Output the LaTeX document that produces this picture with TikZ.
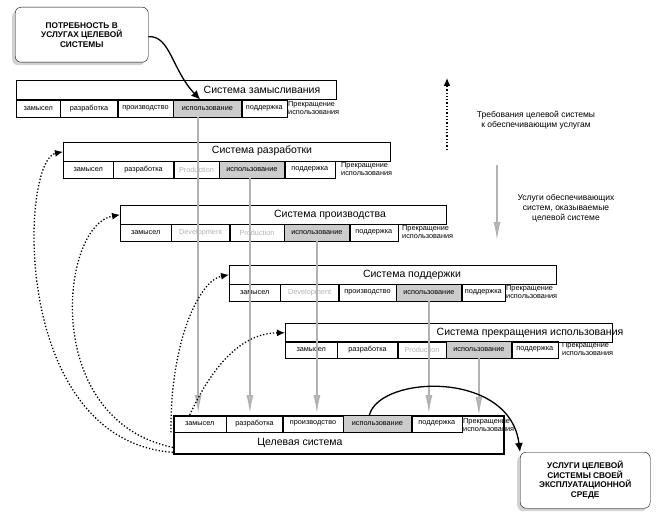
\documentclass[tikz,border=0pt]{standalone}
\usepackage{fontspec}
\setmainfont{Liberation Sans}
\usetikzlibrary{arrows.meta,positioning,shadows}

\begin{document}
\begin{tikzpicture}[x=1pt, y=-1pt,
    frame/.style={draw, line width=0.6pt, anchor=north west, inner sep=0pt, minimum height=19pt},
    cell/.style={draw, line width=0.4pt, anchor=north west, inner sep=1pt, minimum height=17pt, font=\fontsize{7.3}{8}\selectfont},
    use/.style={cell, fill=gray!40},
    faint/.style={cell, text=gray!60},
    endlbl/.style={anchor=north west, align=left, inner sep=1pt, font=\fontsize{7.3}{8}\selectfont},
    title/.style={font=\fontsize{10.5}{12}\selectfont},
    callout/.style={draw, rounded corners=6pt, fill=white, align=center, font=\fontsize{8.3}{9.5}\selectfont\bfseries, drop shadow={shadow xshift=-3pt, shadow yshift=-3pt, fill=gray!70}},
    feed/.style={draw=gray!60, line width=2.2pt, -{Latex[length=20pt, width=7pt, fill=gray!30]}},
    req/.style={dotted, line width=1.3pt, -{Latex[length=8pt, width=7pt]}},
    flow/.style={line width=1.3pt, -{Latex[length=9pt, width=8pt]}}
]
\useasboundingbox (0,0) rectangle (665,516);

% Need of the target system
\node[callout, minimum width=133pt, minimum height=55pt, anchor=north west] (need) at (15,7) {ПОТРЕБНОСТЬ В\\УСЛУГАХ ЦЕЛЕВОЙ\\СИСТЕМЫ};

% Concept system
\node[frame, minimum width=320pt] (concept) at (16,80) {};
\node[title] (conceptT) at (262,90) {Система замысливания};
\node[cell, minimum width=44pt] (c1) at (16,100) {замысел};
\node[cell, minimum width=57pt] (c2) at (c1.north east) {разработка};
\node[cell, minimum width=55pt] (c3) at (c2.north east) {производство};
\node[use, minimum width=68pt] (c4) at (c3.north east) {использование};
\node[cell, minimum width=45pt] (c5) at (c4.north east) {поддержка};
\node[endlbl] (c6) at (c5.north east) {Прекращение\\использования};

% Development system
\node[frame, minimum width=327pt] (devel) at (63,142) {};
\node[title] (develT) at (262,151) {Система разработки};
\node[cell, minimum width=50pt] (d1) at (63,161) {замысел};
\node[cell, minimum width=60pt] (d2) at (d1.north east) {разработка};
\node[faint, minimum width=45pt] (d3) at (d2.north east) {Production};
\node[use, minimum width=65pt] (d4) at (d3.north east) {использование};
\node[cell, minimum width=50pt] (d5) at (d4.north east) {поддержка};
\node[endlbl] (d6) at ([xshift=5pt]d5.north east) {Прекращение\\использования};

% Production system
\node[frame, minimum width=326pt] (prod) at (120,205) {};
\node[title] (prodT) at (330,215) {Система производства};
\node[cell, minimum width=51pt] (p1) at (120,224) {замысел};
\node[faint, minimum width=58pt] (p2) at (p1.north east) {Development};
\node[faint, minimum width=54pt] (p3) at (p2.north east) {Production};
\node[use, minimum width=65pt] (p4) at (p3.north east) {использование};
\node[cell, minimum width=48pt] (p5) at (p4.north east) {поддержка};
\node[endlbl] (p6) at ([xshift=3pt]p5.north east) {Прекращение\\использования};

% Support system
\node[frame, minimum width=327pt] (supp) at (229,265) {};
\node[title] (suppT) at (412,275) {Система поддержки};
\node[cell, minimum width=51pt] (s1) at (229,284) {замысел};
\node[faint, minimum width=58pt] (s2) at (s1.north east) {Development};
\node[cell, minimum width=57pt] (s3) at (s2.north east) {производство};
\node[use, minimum width=65pt] (s4) at (s3.north east) {использование};
\node[cell, minimum width=43pt] (s5) at (s4.north east) {поддержка};
\node[endlbl] (s6) at (s5.north east) {Прекращение\\использования};

% Retirement system
\node[frame, minimum width=327pt] (ret) at (285,323) {};
\node[title] (retT) at (530,333) {Система прекращения использования};
\node[cell, minimum width=52pt] (r1) at (285,341) {замысел};
\node[cell, minimum width=60pt] (r2) at (r1.north east) {разработка};
\node[faint, minimum width=48pt] (r3) at (r2.north east) {Production};
\node[use, minimum width=65pt] (r4) at (r3.north east) {использование};
\node[cell, minimum width=46pt] (r5) at (r4.north east) {поддержка};
\node[endlbl] (r6) at ([xshift=3pt]r5.north east) {Прекращение\\использования};

% Target system
\node[draw, line width=1.8pt, anchor=north west, minimum width=330pt, minimum height=38pt, inner sep=0pt] (tgt) at (173,415) {};
\node[title] (tgtT) at (300,443) {Целевая система};
\node[cell, minimum width=53pt] (t1) at (173,415) {замысел};
\node[cell, minimum width=56pt] (t2) at (t1.north east) {разработка};
\node[cell, minimum width=60pt] (t3) at (t2.north east) {производство};
\node[use, minimum width=68pt] (t4) at (t3.north east) {использование};
\node[cell, minimum width=50pt] (t5) at (t4.north east) {поддержка};
\node[endlbl] (t6) at ([yshift=-2pt]t5.north east) {Прекращение\\использования};

% Services of the target system
\node[callout, minimum width=130pt, minimum height=56pt, anchor=north west] (serv) at (520,452) {УСЛУГИ ЦЕЛЕВОЙ\\СИСТЕМЫ СВОЕЙ\\ЭКСПЛУАТАЦИОННОЙ\\СРЕДЕ};

% Legend
\coordinate (reqA) at (447,150);
\coordinate (reqB) at (447,78);
\coordinate (feedA) at (497,165);
\coordinate (feedB) at (497,242);
\node[align=center, font=\fontsize{8.5}{10}\selectfont] (reqL) at (536,120) {Требования целевой системы\\к обеспечивающим услугам};
\node[align=center, font=\fontsize{8.5}{10}\selectfont] (feedL) at (566,208) {Услуги обеспечивающих\\систем, оказываемые\\целевой системе};
\draw[req] (reqA) -- (reqB);
\draw[feed] (feedA) -- (feedB);

% Services delivered to the target
\coordinate (f1) at ([xshift=25pt]c4.south west);
\coordinate (f2) at ([xshift=-2pt]d4.south);
\coordinate (f3) at (p4.south);
\coordinate (f4) at (s4.south);
\coordinate (f5) at (r4.south);
\draw[feed] (f1) -- (f1 |- t1.north);
\draw[feed] (f2) -- (f2 |- t2.north);
\draw[feed] (f3) -- (f3 |- t3.north);
\draw[feed] (f4) -- (f4 |- t5.north);
\draw[feed] (f5) -- (f5 |- t6.north);

% Requirements to enabling systems
\draw[req] ([yshift=-20pt]t1.south west) .. controls (10,440) and (20,160) .. (devel.west);
\draw[req] ([yshift=-15pt]t1.south west) .. controls (40,420) and (60,225) .. (prod.west);
\draw[req] ([xshift=-2pt]t1.south west) .. controls (170,340) and (200,280) .. (supp.west);
\draw[req] ([xshift=-10pt]t1.north) .. controls (215,360) and (245,333) .. (ret.west);

% Need and services flows
\coordinate (needOut) at ([yshift=-2pt]need.east);
\draw[flow] (needOut) .. controls (170,35) and (172,70) .. (conceptT.west |- concept.south);
\draw[flow] ([xshift=-8pt]t4.north) .. controls (380,375) and (510,370) .. (serv.north west);
\end{tikzpicture}
\end{document}
